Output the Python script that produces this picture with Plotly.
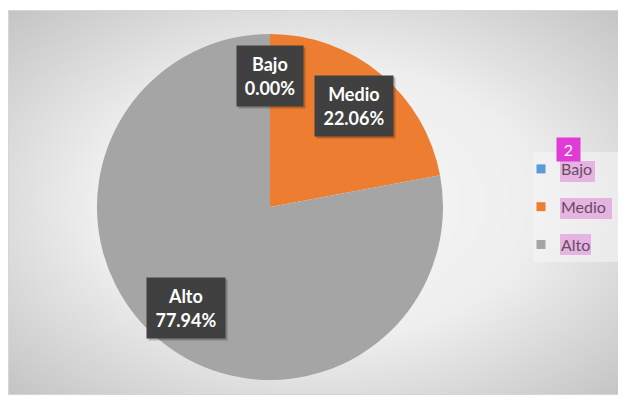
import base64
import math
import plotly.graph_objects as go

# ---- data ----
categories = ["Bajo", "Medio", "Alto"]
values = [0.00, 22.06, 77.94]
colors = ["#5B9BD5", "#ED7D31", "#A5A5A5"]

# page has an 8px body margin; figure coordinates = page pixels - 8
OFF = 8
W, H = 626 - OFF, 401 - OFF


def fx(px):
    return (px - OFF) / W


def fy(py):
    return 1 - (py - OFF) / H


# pie geometry (page pixels)
CX, CY, R = 270, 207, 173

# ---- background gradient (chart area) ----
svg = """<svg xmlns='http://www.w3.org/2000/svg' width='619' height='385' viewBox='0 0 619 385' preserveAspectRatio='none'>
<defs><radialGradient id='g' cx='0.5' cy='0.5' r='0.72'>
<stop offset='0' stop-color='#f8f8f8'/><stop offset='0.5' stop-color='#eeeeee'/><stop offset='1' stop-color='#c2c2c2'/>
</radialGradient></defs>
<rect x='0' y='0' width='619' height='385' fill='url(#g)'/>
<rect x='0.5' y='0.5' width='618' height='384' fill='none' stroke='#d6d6d6' stroke-width='1'/>
</svg>"""
src = "data:image/svg+xml;base64," + base64.b64encode(svg.encode()).decode()

fig = go.Figure()

fig.add_trace(go.Pie(
    labels=categories,
    values=values,
    marker=dict(colors=colors, line=dict(width=0)),
    sort=False,
    direction="clockwise",
    rotation=0,
    textinfo="none",
    hoverinfo="skip",
    showlegend=False,
    domain=dict(x=[fx(CX - R), fx(CX + R)], y=[fy(CY + R), fy(CY - R)]),
))

# legend entries
for cat, col in zip(categories, colors):
    fig.add_trace(go.Scatter(
        x=[None], y=[None], mode="markers", name=cat, legendgroup=cat,
        marker=dict(symbol="square", size=9, color=col),
        hoverinfo="skip",
    ))

# data labels computed from slice angles
total = sum(values)
cum = 0.0
annotations = []
for cat, v in zip(categories, values):
    mid = (cum + v / 2) / total
    cum += v
    th = 2 * math.pi * mid
    rf = 0.76
    px = CX + rf * R * math.sin(th)
    py = CY - rf * R * math.cos(th)
    pct = f"{v:.2f}%"
    txt = f"<b>{cat}</b><br><b>{pct}</b>"
    bw = 12 * max(len(cat), len(pct)) - 6
    annotations.append(dict(
        x=fx(px), y=fy(py), xref="paper", yref="paper", text=" ",
        xanchor="center", yanchor="middle", width=bw, height=48,
        showarrow=False, bgcolor="rgba(0,0,0,0.22)", borderpad=6, xshift=2, yshift=-2,
    ))
    annotations.append(dict(
        x=fx(px), y=fy(py), xref="paper", yref="paper", text=txt,
        xanchor="center", yanchor="middle", width=bw, height=48,
        showarrow=False, font=dict(family="Lato", size=18, color="white"),
        bgcolor="#404040", borderpad=6,
    ))

# badge
annotations.append(dict(
    x=fx(568), y=fy(149), xref="paper", yref="paper", text="2",
    xanchor="center", yanchor="middle",
    showarrow=False, font=dict(family="Lato", size=16, color="white"),
    bgcolor="#E03BD6", borderpad=3, width=17, height=17,
))

shapes = [
    dict(type="rect", xref="paper", yref="paper", x0=fx(533), x1=fx(620),
         y0=fy(262), y1=fy(152), fillcolor="rgba(245,245,245,0.55)",
         line=dict(width=0), layer="above"),
]
for (x0, x1, y0, y1) in [(560, 595, 161, 182), (560, 612, 198, 219), (560, 591, 234, 255)]:
    shapes.append(dict(type="rect", xref="paper", yref="paper", x0=fx(x0), x1=fx(x1),
                       y0=fy(y1), y1=fy(y0), fillcolor="rgba(226,160,220,0.75)",
                       line=dict(width=0), layer="above"))

fig.update_layout(
    width=W, height=H, autosize=False,
    margin=dict(l=0, r=0, t=0, b=0),
    paper_bgcolor="white", plot_bgcolor="rgba(0,0,0,0)",
    xaxis=dict(visible=False), yaxis=dict(visible=False),
    images=[dict(source=src, xref="paper", yref="paper", x=0, y=fy(10),
                 sizex=1, sizey=385 / H, sizing="stretch", layer="below",
                 xanchor="left", yanchor="top")],
    legend=dict(x=fx(521), y=fy(152), xanchor="left", yanchor="top",
                bgcolor="rgba(0,0,0,0)", traceorder="grouped", tracegroupgap=14,
                font=dict(family="Lato", size=16, color="#6a4a66")),
    annotations=annotations,
    shapes=shapes,
    hovermode=False,
)

fig.write_html("out.html")
